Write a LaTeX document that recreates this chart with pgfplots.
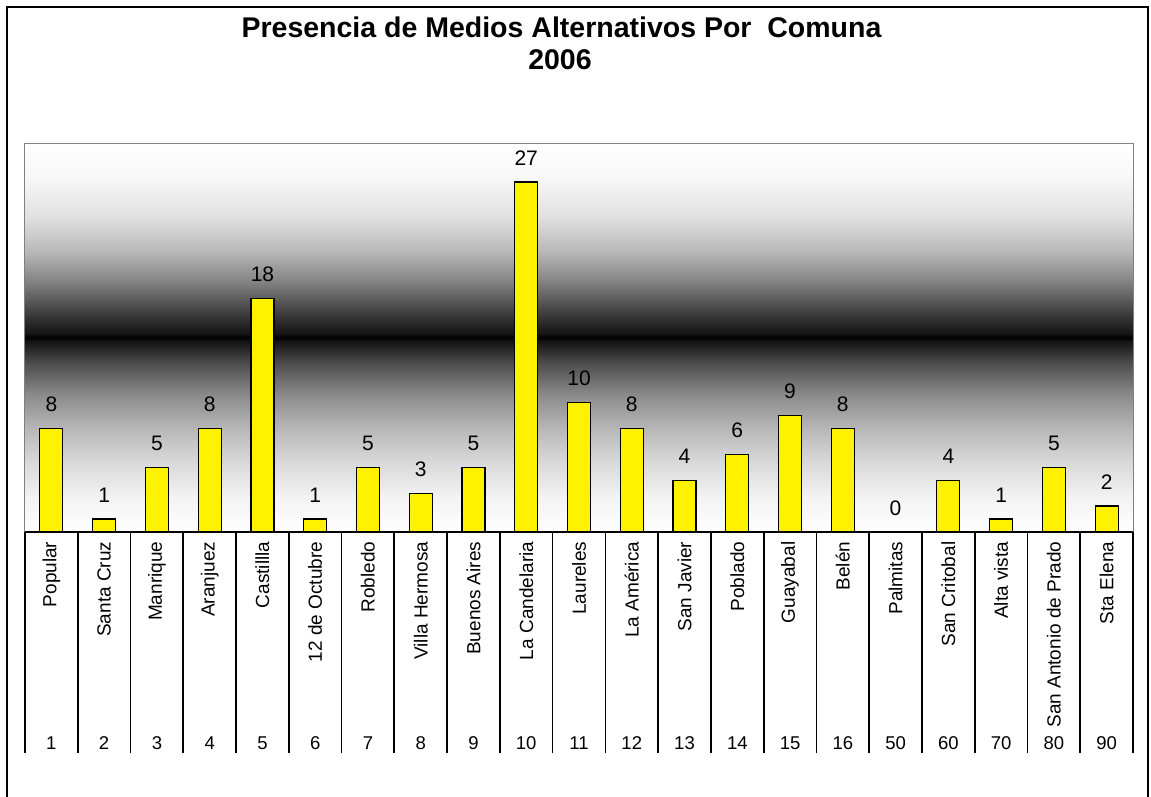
\documentclass[border=0pt]{standalone}
\usepackage{fontspec}
\setmainfont{Liberation Sans}
\usepackage{pgfplots}
\pgfplotsset{compat=1.18}
\pgfdeclareverticalshading{bgshade}{100bp}{color(0bp)=(white); color(25bp)=(white); color(29.5bp)=(black!5); color(34bp)=(black!15); color(38.25bp)=(black!28); color(42.5bp)=(black!45); color(46.75bp)=(black!70); color(49.5bp)=(black!92); color(50bp)=(black); color(50.5bp)=(black!92); color(52.5bp)=(black!80); color(57bp)=(black!50); color(61bp)=(black!28); color(65.5bp)=(black!12); color(70.5bp)=(black!3); color(75bp)=(white); color(100bp)=(white)}
\begin{document}
\begin{tikzpicture}[x=1pt,y=1pt]
\path[use as bounding box] (-25,-264) rectangle (1126,532);
\draw[line width=1.5pt] (-18,-280) -- (-18,525) -- (1123,525) -- (1123,-280);
\begin{axis}[
  at={(0,0)}, anchor=south west,
  width=1108pt, height=389pt, scale only axis,
  xmin=0.5, xmax=21.5, ymin=0, ymax=30,
  ymajorticks=false,
  xtick={1,...,21},
  xticklabels={Popular,Santa Cruz,Manrique,Aranjuez,Castillla,12 de Octubre,Robledo,Villa Hermosa,Buenos Aires,La Candelaria,Laureles,La América,San Javier,Poblado,Guayabal,Belén,Palmitas,San Critobal,Alta vista,San Antonio de Prado,Sta Elena},
  xticklabel style={font=\fontsize{19}{21}\selectfont, anchor=east, inner sep=0pt, yshift=-9.5pt, rotate=90},
  major tick length=0pt,
  xtick pos=lower,
  extra x ticks={0.5,1.5,...,21.5},
  extra x tick labels={},
  extra x tick style={major tick length=221pt, tick align=outside, tick style={black, line width=1.7pt}},
  axis line style={draw=black!50, line width=1pt},
  axis background/.style={shading=bgshade},
  /pgf/number format/assume math mode=true,
  clip=false,
]
\addplot[ybar, bar width=23pt, fill=yellow, draw=black, line width=1.2pt,
  nodes near coords,
  every node near coord/.append style={font=\fontsize{21}{23}\selectfont, inner sep=0pt, anchor=south, yshift=16pt, black}]
  coordinates {(1,8) (2,1) (3,5) (4,8) (5,18) (6,1) (7,5) (8,3) (9,5) (10,27) (11,10) (12,8) (13,4) (14,6) (15,9) (16,8) (17,0) (18,4) (19,1) (20,5) (21,2)};
\draw[black, line width=1.6pt] (rel axis cs:0,0) -- (rel axis cs:1,0);
\end{axis}
\begin{axis}[
  at={(0,0)}, anchor=south west,
  width=1108pt, height=389pt, scale only axis,
  xmin=0.5, xmax=21.5, ymin=0, ymax=30,
  ymajorticks=false,
  axis line style={draw=none},
  major tick length=0pt,
  xtick pos=lower,
  xtick={1,...,21},
  xticklabels={1,2,3,4,5,6,7,8,9,10,11,12,13,14,15,16,50,60,70,80,90},
  xticklabel style={font=\fontsize{18.5}{20}\selectfont, anchor=center, inner sep=0pt, yshift=-211pt},
]
\end{axis}
\node[anchor=base, font=\bfseries\fontsize{28.5}{34}\selectfont] at (536.5,494) {Presencia de Medios Alternativos Por~ Comuna};
\node[anchor=base, font=\bfseries\fontsize{28.5}{34}\selectfont] at (535,462) {2006};
\end{tikzpicture}
\end{document}
